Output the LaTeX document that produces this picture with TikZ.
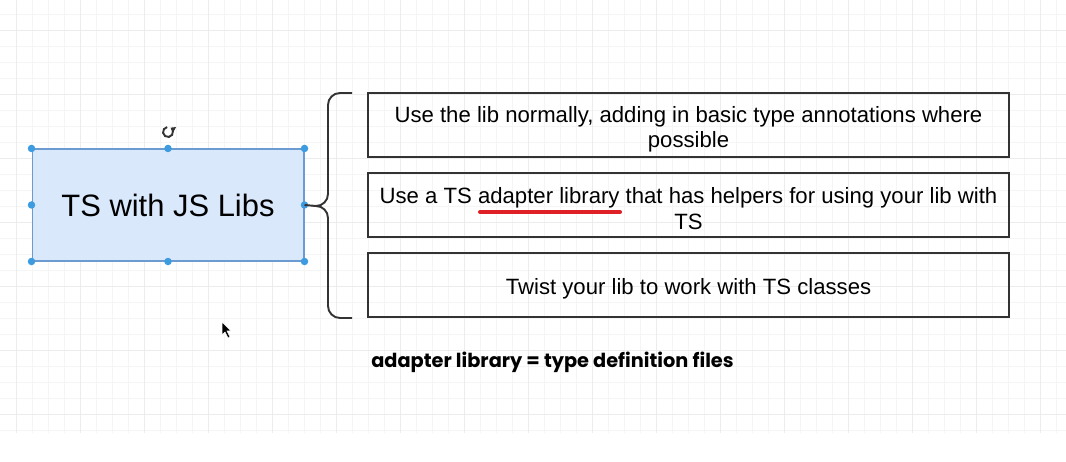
\documentclass[tikz,border=0pt]{standalone}
\usepackage{fontspec}
\setmainfont{Liberation Sans}
\newfontfamily\notefont{Poppins}
\usepackage{xcolor}
\usetikzlibrary{positioning,calc,arrows.meta}

\definecolor{gridminor}{HTML}{F5F5F5}
\definecolor{gridmajor}{HTML}{ECECEC}
\definecolor{selblue}{HTML}{3D9BE0}
\definecolor{boxfill}{HTML}{DAE8FC}
\definecolor{boxline}{HTML}{6C9BD2}
\definecolor{outline}{HTML}{333333}
\definecolor{markred}{HTML}{E02027}

\tikzset{
    option/.style={draw=outline, line width=1.1pt, outer sep=0pt, inner ysep=0pt, minimum width=12.82cm,
        minimum height=1.28cm, align=center, text height=13.8pt, font=\fontsize{12.6}{14.7}\selectfont},
    twoline/.style={text height=#1},
    handle/.style={circle, fill=selblue, inner sep=0pt, minimum size=0.15cm},
    gridline/.style={gridminor, line width=0.5pt},
}

\begin{document}
\begin{tikzpicture}[x=0.02cm, y=-0.02cm]
    % Canvas
    \fill[white] (0,0) rectangle (1066,462);
    \useasboundingbox (0,0) rectangle (1066,462);

    % Grid
    \foreach \gx in {16,32,...,1056} \draw[gridline] (\gx,0) -- (\gx,433);
    \foreach \gy in {14,30,...,430} \draw[gridline] (0,\gy) -- (1066,\gy);
    \foreach \gx in {16,80,...,1056} \draw[gridmajor, line width=0.5pt] (\gx,0) -- (\gx,433);
    \foreach \gy in {30,94,...,430} \draw[gridmajor, line width=0.5pt] (0,\gy) -- (1066,\gy);

    % Selected shape
    \node[draw=boxline, fill=boxfill, line width=0.6pt, minimum width=5.44cm, minimum height=2.24cm,
        font=\fontsize{17.6}{20}\selectfont] (title) at (168,205) {TS with JS Libs};
    \foreach \a in {north west,north,north east,west,east,south west,south,south east}
        \node[handle] at (title.\a) {};
    \coordinate (rot) at (168,132);
    \draw[outline, line width=1.1pt, -{Triangle[length=2.6pt,width=3.6pt]}]
        ($(rot)+(100:0.1cm)$) arc[start angle=100, end angle=420, radius=0.1cm];

    % Options
    \node[option, twoline=28.7pt] (opt1) at (688.5,125) {Use the lib normally, adding in basic type annotations where\\possible};
    \node[option, twoline=27.7pt, below=0.32cm of opt1] (opt2) {Use a TS adapter library that has helpers for using your lib with\\TS};
    \node[option, below=0.32cm of opt2] (opt3) {Twist your lib to work with TS classes};

    % Brace
    \coordinate (tip) at (316,206);
    \draw[outline, line width=1.1pt] (352,93) -- (340,93) to[out=180,in=90] (328,105) -- (328,194)
        to[out=-90,in=0] (tip) to[out=0,in=90] (328,218) -- (328,306)
        to[out=-90,in=180] (340,318) -- (352,318);
    \draw[outline, line width=1.1pt] (title.east) -- (tip);

    % Underline
    \draw[markred, line width=2.3pt, line cap=round] (480,212) -- (620,212);

    % Cursor
    \fill[black, draw=white, line width=0.3pt] (222,322) -- (222,335) -- (225,332) -- (228,338)
        -- (230,337) -- (227,331) -- (231,331) -- cycle;

    % Note
    \node[anchor=base west, inner sep=0pt] (note) at (371,368)
        {\notefont\bfseries\fontsize{11}{13}\selectfont adapter library = type definition files};
\end{tikzpicture}
\end{document}
